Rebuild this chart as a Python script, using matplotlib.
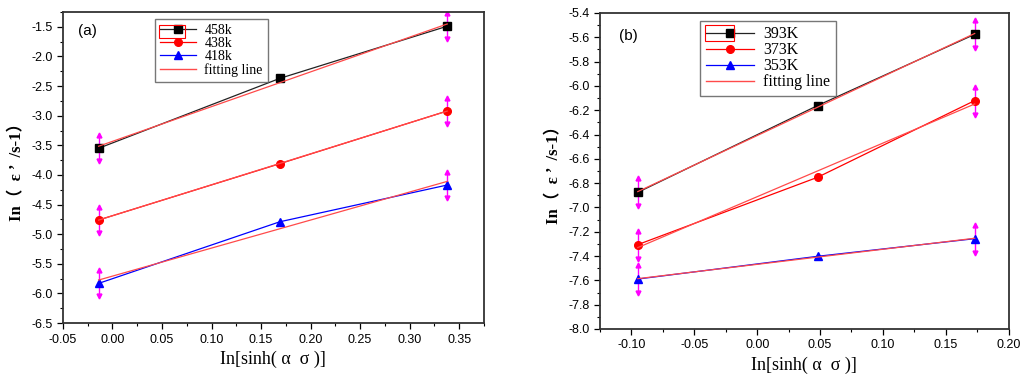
import numpy as np
import matplotlib.pyplot as plt
from matplotlib.patches import Rectangle
from matplotlib.ticker import MultipleLocator

# panel (a) data
x_a = [-0.014, 0.169, 0.338]
y_458 = [-3.55, -2.37, -1.49]
y_438 = [-4.76, -3.81, -2.92]
y_418 = [-5.83, -4.79, -4.17]
err_a = [0.22, 0.0, 0.22]
labels_a = ["458k", "438k", "418k"]

# panel (b) data
x_b = [-0.095, 0.048, 0.173]
y_393 = [-6.876, -6.162, -5.576]
y_373 = [-7.306, -6.752, -6.121]
y_353 = [-7.589, -7.402, -7.257]
err_b = [0.115, 0.0, 0.115]
labels_b = ["393K", "373K", "353K"]

styles = [("#222222", "s", "black"), ("red", "o", "red"), ("blue", "^", "blue")]
fit_color = "#ff4a4a"
serif = ["Liberation Serif", "Noto Sans CJK SC"]

plt.rcParams['font.family'] = ['Liberation Sans', 'DejaVu Sans']
plt.rcParams['font.size'] = 9

fig = plt.figure(figsize=(10.24, 3.81), dpi=100)
ax1 = fig.add_axes([0.0615, 0.152, 0.411, 0.8165])
ax2 = fig.add_axes([0.586, 0.1365, 0.399, 0.8295])


def draw_panel(ax, x, ys, err, labels, legend_fs, legend_pos, rect, spacing, hlen):
    x = np.array(x)
    handles = []
    for y, lab, (lc, mk, mc) in zip(ys, labels, styles):
        y = np.array(y)
        h, = ax.plot(x, y, color=lc, lw=0.9, marker=mk, ms=5.5, mfc=mc, mec=mc,
                     label=lab, zorder=3)
        handles.append(h)
        # fitting line
        k, b = np.polyfit(x, y, 1)
        ax.plot(x[[0, -1]], k * x[[0, -1]] + b, color=fit_color, lw=0.9, zorder=4)
        # error bars with arrow heads
        e = np.array(err)
        m = e > 0
        ax.vlines(x[m], y[m] - e[m], y[m] + e[m], color="magenta", lw=1, zorder=2)
        ax.plot(x[m], y[m] + e[m], ls="none", marker="^", ms=3.5, color="magenta", zorder=2)
        ax.plot(x[m], y[m] - e[m], ls="none", marker="v", ms=3.5, color="magenta", zorder=2)
    fh, = ax.plot([], [], color=fit_color, lw=1.0, label="fitting line")
    handles.append(fh)
    leg = ax.legend(handles=handles, loc="upper left", bbox_to_anchor=legend_pos,
                    prop={"family": serif, "size": legend_fs}, frameon=True,
                    fancybox=False, edgecolor="#555555", handlelength=hlen,
                    handletextpad=0.6, borderpad=0.35, labelspacing=spacing,
                    borderaxespad=0)
    leg.get_frame().set_linewidth(1.0)
    ax.add_patch(Rectangle((rect[0], rect[1]), rect[2], rect[3], transform=ax.transAxes,
                           fill=False, ec="red", lw=0.8, zorder=10))
    for s in ax.spines.values():
        s.set_linewidth(1.3)
        s.set_color("#333333")
    ax.tick_params(which="major", direction="out", length=4, width=0.9)
    ax.tick_params(which="minor", direction="out", length=2.5, width=0.8)
    ax.set_xlabel("In[sinh( α  σ )]", family=serif, fontsize=13)
    ax.set_ylabel("In（  ε ’  /s-1）", family=serif, fontsize=12, fontweight="bold")


draw_panel(ax1, x_a, [y_458, y_438, y_418], err_a, labels_a, 10,
           (0.219, 0.977), (0.228, 0.918, 0.062, 0.041), 0.0, 2.6)
ax1.set_xlim(-0.05, 0.375)
ax1.set_ylim(-6.5, -1.25)
ax1.xaxis.set_major_locator(MultipleLocator(0.05))
ax1.xaxis.set_minor_locator(MultipleLocator(0.025))
ax1.yaxis.set_major_locator(MultipleLocator(0.5))
ax1.yaxis.set_minor_locator(MultipleLocator(0.25))
ax1.xaxis.set_major_formatter(lambda v, p: f"{v:.2f}")
ax1.yaxis.set_major_formatter(lambda v, p: f"{v:.1f}")
ax1.text(0.036, 0.925, "(a)", transform=ax1.transAxes, fontsize=11)

draw_panel(ax2, x_b, [y_393, y_373, y_353], err_b, labels_b, 11.5,
           (0.245, 0.976), (0.257, 0.912, 0.071, 0.050), 0.0, 3.0)
ax2.set_xlim(-0.125, 0.20)
ax2.set_ylim(-8.0, -5.4)
ax2.xaxis.set_major_locator(MultipleLocator(0.05))
ax2.xaxis.set_minor_locator(MultipleLocator(0.025))
ax2.yaxis.set_major_locator(MultipleLocator(0.2))
ax2.yaxis.set_minor_locator(MultipleLocator(0.1))
ax2.xaxis.set_major_formatter(lambda v, p: f"{v:.2f}")
ax2.yaxis.set_major_formatter(lambda v, p: f"{v:.1f}")
ax2.text(0.046, 0.915, "(b)", transform=ax2.transAxes, fontsize=11)

fig.savefig("out.png", dpi=100)
